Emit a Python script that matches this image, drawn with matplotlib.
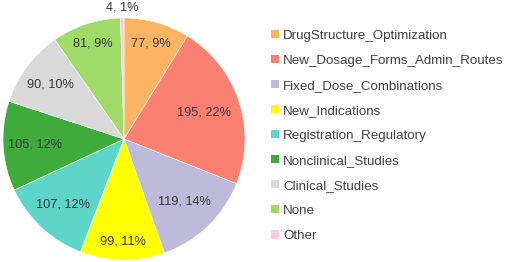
import numpy as np
import matplotlib
matplotlib.use("Agg")
import matplotlib.pyplot as plt
from matplotlib.patches import Patch

categories = ["DrugStructure_Optimization", "New_Dosage_Forms_Admin_Routes",
              "Fixed_Dose_Combinations", "New_Indications", "Registration_Regulatory",
              "Nonclinical_Studies", "Clinical_Studies", "None", "Other"]
values = [77, 195, 119, 99, 107, 105, 90, 81, 4]
percents = [9, 22, 14, 11, 12, 12, 10, 9, 1]
colors = ["#FDB462", "#FA8072", "#BEBADA", "#FFFF00", "#5DD6C9",
          "#3FAB3A", "#D9D9D9", "#A0DB6A", "#F9CCE3"]

label_dist = [0.82, 0.70, 0.72, 0.85, 0.74, 0.74, 0.76, 0.83, 1.09]

plt.rcParams['font.family'] = ['Liberation Sans', 'DejaVu Sans']

fig = plt.figure(figsize=(5.05, 2.62), dpi=100)
ax = fig.add_axes([3/505, 2/262, 242/505, 242/262])
wedges, _ = ax.pie(values, colors=colors, startangle=90, counterclock=False,
                   wedgeprops=dict(edgecolor="white", linewidth=0.4))
ax.set_xlim(-1, 1)
ax.set_ylim(-1, 1)
ax.set_aspect('equal')

for w, v, p, d in zip(wedges, values, percents, label_dist):
    ang = np.deg2rad((w.theta1 + w.theta2) / 2)
    ax.text(d * np.cos(ang), d * np.sin(ang), f"{v}, {p}%", ha="center", va="center",
            fontsize=9.2, color="#383838", clip_on=False)

handles = [Patch(facecolor=c, edgecolor="none") for c in colors]
fig.legend(handles, categories, loc="upper left", bbox_to_anchor=(271/505, 1 - 29.5/262),
           frameon=False, fontsize=9.6, labelcolor="#404040",
           handlelength=0.6, handleheight=0.6, handletextpad=0.3,
           labelspacing=0.98, borderaxespad=0, borderpad=0)

fig.savefig("out.png", dpi=100)
